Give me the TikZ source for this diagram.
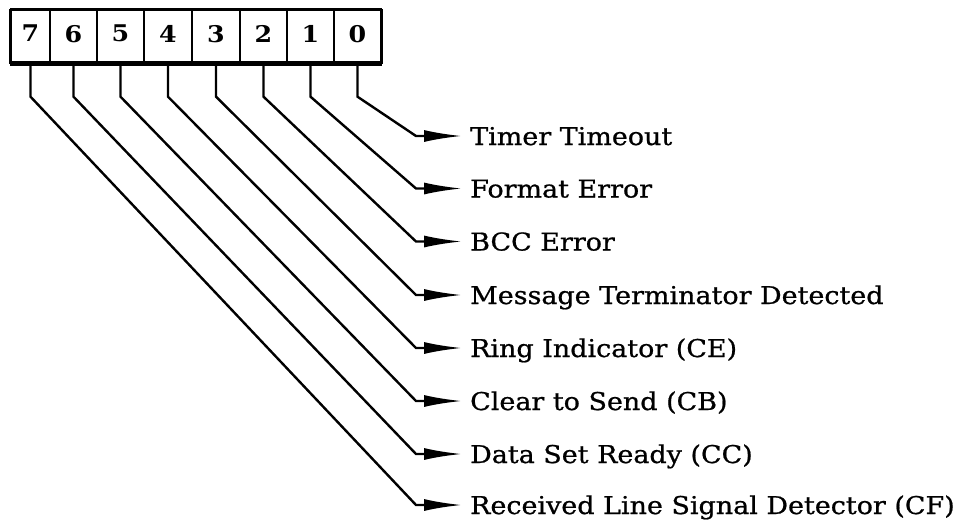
\documentclass[tikz,border=0pt]{standalone}
\usepackage{fontspec}
\setmainfont{DejaVu Serif}[FakeStretch=1.1]
\usetikzlibrary{arrows.meta}
\begin{document}
\begin{tikzpicture}[x=1pt,y=-1pt,
  cell/.style={draw, line width=1.4pt, minimum height=53pt, inner sep=0pt,
    text depth=6pt, font=\fontsize{23}{23}\selectfont\bfseries},
  lbl/.style={anchor=west, inner sep=0pt, text height=18pt, text depth=0pt,
    font=\fontsize{24.5}{24.5}\selectfont\addfontfeature{FakeBold=0.8}},
  wire/.style={line width=2.4pt, line join=miter, -{Latex[length=38pt,width=12pt]}}]
\useasboundingbox (0,0) rectangle (976,524);
% register cells
\node[cell, minimum width=39pt] (c7) at (30.5,36.5) {7};
\node[cell, minimum width=47pt] (c6) at (73.5,36.5) {6};
\node[cell, minimum width=47pt] (c5) at (120.5,36.5) {5};
\node[cell, minimum width=48pt] (c4) at (168,36.5) {4};
\node[cell, minimum width=48pt] (c3) at (216,36.5) {3};
\node[cell, minimum width=47pt] (c2) at (263.5,36.5) {2};
\node[cell, minimum width=47pt] (c1) at (310.5,36.5) {1};
\node[cell, minimum width=47pt] (c0) at (357.5,36.5) {0};
% heavier outer border
\draw[line width=3pt] (c7.north west) -- (c0.north east);
\draw[line width=4.5pt] (c7.south west) -- (c0.south east);
\draw[line width=2pt] (c7.north west) -- (c7.south west);
\draw[line width=2pt] (c0.north east) -- (c0.south east);
% labels
\node[lbl] (l0) at (470,136) {Timer Timeout};
\node[lbl] (l1) at (470,188.5) {Format Error};
\node[lbl] (l2) at (470,241.5) {BCC Error};
\node[lbl] (l3) at (470,295) {Message Terminator Detected};
\node[lbl] (l4) at (470,348) {Ring Indicator (CE)};
\node[lbl] (l5) at (470,401) {Clear to Send (CB)};
\node[lbl] (l6) at (470,454) {Data Set Ready (CC)};
\node[lbl] (l7) at (470,505) {Received Line Signal Detector (CF)};
% connectors
\foreach \b in {0,...,7}{
  \draw[wire] (c\b.south) -- ++(0,33) -- (l\b.west -| 416,0) -- ([xshift=-8pt]l\b.west);
}
\end{tikzpicture}
\end{document}
